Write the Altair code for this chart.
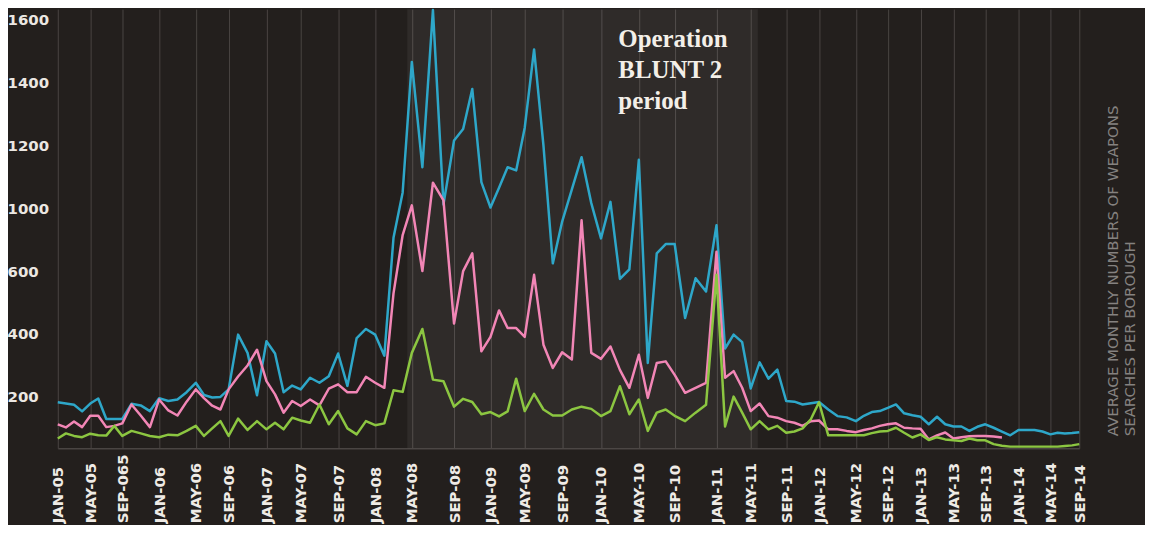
import json
import altair as alt
import pandas as pd

# ---------------- data ----------------
TICK_LABELS = ["JAN-05", "MAY-05", "SEP-065", "JAN-06", "MAY-06", "SEP-06", "JAN-07", "MAY-07",
               "SEP-07", "JAN-08", "MAY-08", "SEP-08", "JAN-09", "MAY-09", "SEP-09", "JAN-10",
               "MAY-10", "SEP-10", "JAN-11", "MAY-11", "SEP-11", "JAN-12", "MAY-12", "SEP-12",
               "JAN-13", "MAY-13", "SEP-13", "JAN-14", "MAY-14", "SEP-14"]

BLUE = [183, 179, 175, 154, 179, 195, 130, 130, 130, 178,
        173, 155, 196, 187, 192, 215, 245, 206, 198, 200,
        224, 398, 340, 205, 377, 338, 215, 236, 224, 261,
        245, 266, 338, 235, 387, 416, 398, 331, 812, 1050,
        1465, 1130, 1630, 1012, 1215, 1252, 1379, 1083, 1002, 1065,
        1130, 1120, 1256, 1505, 1200, 649, 915, 1060, 1162, 1016,
        808, 1020, 575, 611, 1154, 308, 713, 772, 772, 451,
        577, 535, 892, 354, 398, 374, 227, 310, 258, 287,
        187, 185, 176, 180, 184, 160, 139, 135, 123, 140,
        152, 155, 165, 176, 148, 142, 137, 113, 137, 113,
        106, 106, 92, 105, 113, 102, 90, 78, 95, 95,
        95, 90, 81, 86, 84, 85, 88]

PINK = [113, 103, 122, 104, 140, 140, 104, 108, 116, 176,
        141, 104, 192, 157, 141, 185, 224, 196, 172, 160,
        224, 265, 300, 350, 250, 208, 150, 187, 171, 192,
        173, 226, 240, 215, 215, 264, 245, 229, 529, 829,
        1009, 600, 1081, 1025, 433, 600, 713, 345, 391, 475,
        419, 419, 391, 588, 366, 292, 342, 319, 923, 340,
        321, 360, 286, 229, 334, 197, 308, 313, 270, 213,
        229, 245, 723, 261, 282, 229, 155, 179, 139, 134,
        123, 118, 108, 123, 125, 97, 97, 92, 88, 95,
        100, 108, 113, 116, 102, 100, 99, 65, 78, 87,
        68, 72, 75, 76, 76, 74, 71]

GREEN = [68, 84, 76, 72, 83, 78, 77, 108, 76, 92,
         84, 76, 72, 80, 78, 92, 108, 76, 100, 123,
         76, 131, 95, 123, 97, 118, 97, 134, 125, 118,
         176, 113, 155, 100, 81, 123, 110, 116, 221, 216,
         340, 416, 255, 250, 169, 194, 184, 145, 152, 138,
         154, 258, 155, 210, 160, 141, 141, 160, 169, 162,
         139, 155, 234, 145, 192, 92, 150, 160, 140, 123,
         150, 175, 588, 106, 201, 150, 97, 123, 97, 108,
         86, 90, 100, 129, 183, 78, 78, 78, 78, 78,
         85, 90, 92, 102, 86, 71, 81, 63, 72, 65,
         62, 60, 68, 62, 62, 50, 45, 42, 42, 42,
         42, 42, 42, 42, 44, 46, 50]

Y_TICKS = [200, 400, 600, 1000, 1200, 1400, 1600]
SHADE_START, SHADE_END = 39.5, 76.8      # month index (0 = Jan 2005)
ANNOTATION = "Operation\nBLUNT 2\nperiod"
SIDE_TITLE_1 = "AVERAGE MONTHLY NUMBERS OF WEAPONS"
SIDE_TITLE_2 = "SEARCHES PER BOROUGH"

# ---------------- layout ----------------
W, H = 1026, 441
X_TICKS = list(range(0, 117, 4))
# the original's hand-drawn axis is unevenly spaced: pixel position of each 4-month gridline
X_RANGE = [0, 32.6, 64.8, 101.8, 138.6, 171.6, 209.6, 244, 281.6, 318.8, 355.6, 398,
           434.6, 469, 506.6, 545.6, 583.6, 619.6, 661.6, 696, 731.6, 764.6, 801.6,
           833.6, 866.6, 899.6, 931.6, 965, 997, 1026]
# the original's value axis skips 800 (labels 600 -> 1000 are one step apart)
Y_DOMAIN = [37, 600, 1000, 1633]
Y_RANGE = [441, 263.1, 199.9, 0]

BG = "#231f1d"
GRID = "#4a4543"
COLORS = {"blue": "#2ea7c9", "pink": "#f286b6", "green": "#8cc641"}
SANS = "DejaVu Sans"

frames = []
for name, vals in (("blue", BLUE), ("pink", PINK), ("green", GREEN)):
    frames.append(pd.DataFrame({"month": list(range(len(vals))), "value": vals, "series": name}))

xscale = alt.Scale(domain=X_TICKS, range=X_RANGE, nice=False, zero=False)
yscale = alt.Scale(domain=Y_DOMAIN, range=Y_RANGE, nice=False, zero=False)

label_js = json.dumps(TICK_LABELS)
xaxis = alt.Axis(values=X_TICKS, labelExpr=f"{label_js}[round(datum.value / 4)]",
                 labelAngle=270, labelAlign="left", labelBaseline="middle", labelPadding=75,
                 ticks=False, tickSize=0, grid=True, gridColor=GRID, gridWidth=1,
                 domain=True, domainColor=GRID, domainWidth=1.5,
                 labelFont=SANS, labelFontWeight="bold", labelFontSize=15, labelColor="#efebe6",
                 labelOverlap=False, labelFlush=False, labelBound=False, title=None)
yaxis = alt.Axis(values=Y_TICKS, format="d", labelAlign="left", labelBaseline="middle",
                 labelPadding=51, ticks=False, tickSize=0, grid=False, domain=False,
                 labelFont=SANS, labelFontWeight="bold", labelFontSize=15, labelColor="#ebe7e2",
                 labelOverlap=False, labelFlush=False, labelBound=False, title=None)

shade = alt.Chart(pd.DataFrame({"start": [SHADE_START], "end": [SHADE_END]})).mark_rect(
    color="#ffffff", opacity=0.055
).encode(
    x=alt.X("start:Q", scale=xscale, axis=xaxis),
    x2="end:Q",
    y=alt.value(0),
    y2=alt.value(H),
)

lines = []
for f in frames:
    name = f["series"].iloc[0]
    lines.append(
        alt.Chart(f).mark_line(color=COLORS[name], strokeWidth=2.5, strokeJoin="round").encode(
            x=alt.X("month:Q", scale=xscale, axis=xaxis),
            y=alt.Y("value:Q", scale=yscale, axis=yaxis),
        )
    )

note = alt.Chart(pd.DataFrame({"t": [ANNOTATION]})).mark_text(
    align="left", baseline="alphabetic", font="Liberation Serif", fontWeight="bold",
    fontSize=25, lineHeight=31, color="#f3efe8", lineBreak="\n"
).encode(text="t:N", x=alt.value(563), y=alt.value(38))


def side_text(txt, xpos):
    return alt.Chart(pd.DataFrame({"t": [txt]})).mark_text(
        align="left", baseline="middle", angle=270, font=SANS, fontWeight="normal",
        fontSize=15, color="#858280"
    ).encode(text="t:N", x=alt.value(xpos), y=alt.value(429))


side1 = side_text(SIDE_TITLE_1, 1060)
side2 = side_text(SIDE_TITLE_2, 1077)

chart = alt.layer(shade, *lines, note, side1, side2).properties(
    width=W, height=H,
    autosize=alt.AutoSizeParams(type="none"),
    padding={"left": 50, "top": 0, "right": 66, "bottom": 76},
    background=BG,
).configure_view(stroke=None)

chart.save("out.html", embed_options={"renderer": "svg", "actions": False})
